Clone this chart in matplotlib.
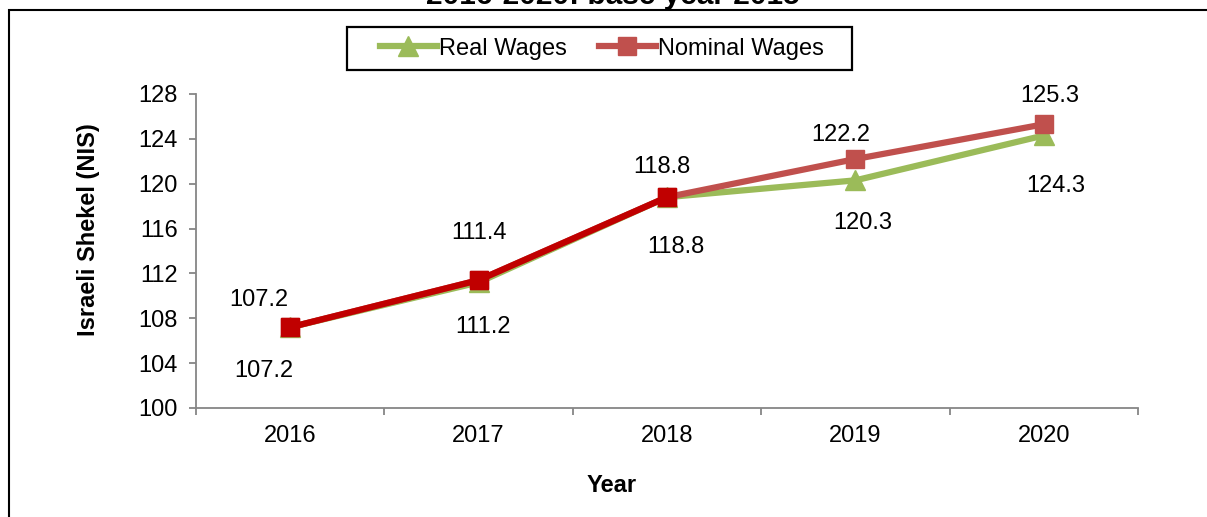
import matplotlib
matplotlib.use("Agg")
import matplotlib.pyplot as plt
from matplotlib.patches import Rectangle

plt.rcParams["font.family"] = ["Liberation Sans", "DejaVu Sans"]

# Data
years = ["2016", "2017", "2018", "2019", "2020"]
real_wages = [107.2, 111.2, 118.8, 120.3, 124.3]
nominal_wages = [107.2, 111.4, 118.8, 122.2, 125.3]
y_ticks = [100, 104, 108, 112, 116, 120, 124, 128]

# Label offsets in pixels (dx, dy) relative to each point
real_offsets = [(-26, -44), (4, -45), (9, -50), (7, -43), (12, -51)]
nominal_offsets = [(-31, 27), (0, 47), (-5, 30), (-15, 24), (6, 28)]

GREEN = "#9BBB59"
RED = "#C0504D"
DARK_RED = "#C00000"
AXIS_GREY = "#868686"

W, H = 1207, 517
fig = plt.figure(figsize=(W / 100, H / 100), dpi=100)
ax = fig.add_axes([196 / W, 1 - 408 / H, (1138 - 196) / W, (408 - 94) / H])

x = list(range(len(years)))

ax.plot(x, real_wages, color=GREEN, lw=4.5, marker="^", ms=15,
        markeredgecolor=GREEN, label="Real Wages", zorder=3,
        solid_joinstyle="round")
ax.plot(x, nominal_wages, color=RED, lw=4.5, marker="s", ms=13.5,
        markeredgecolor=RED, label="Nominal Wages", zorder=4,
        solid_joinstyle="round")
# highlighted first three years of the nominal series
ax.plot(x[:3], nominal_wages[:3], color=DARK_RED, lw=4.5, marker="s", ms=13.5,
        markeredgecolor=DARK_RED, zorder=5, solid_joinstyle="round")

for i, v in enumerate(real_wages):
    ax.annotate(f"{v:.1f}", (x[i], v), xytext=real_offsets[i],
                textcoords="offset pixels", ha="center", va="center",
                fontsize=17, color="black")
for i, v in enumerate(nominal_wages):
    ax.annotate(f"{v:.1f}", (x[i], v), xytext=nominal_offsets[i],
                textcoords="offset pixels", ha="center", va="center",
                fontsize=17, color="black")

ax.set_xlim(-0.5, len(years) - 0.5)
ax.set_ylim(y_ticks[0], y_ticks[-1])
ax.set_yticks(y_ticks)
ax.set_xticks(x)
ax.set_xticklabels(years)
ax.set_xticks([i - 0.5 for i in range(len(years) + 1)], minor=True)

for s in ["top", "right"]:
    ax.spines[s].set_visible(False)
for s in ["left", "bottom"]:
    ax.spines[s].set_color(AXIS_GREY)
    ax.spines[s].set_linewidth(1.3)

ax.tick_params(axis="y", direction="out", length=5, width=1.3,
               color=AXIS_GREY, labelsize=17, pad=8)
ax.tick_params(axis="x", which="major", length=0, labelsize=17, pad=12)
ax.tick_params(axis="x", which="minor", direction="out", length=5,
               width=1.3, color=AXIS_GREY)

fig.text(88 / W, 1 - 230 / H, "Israeli Shekel (NIS)", rotation=90,
         ha="center", va="center", fontsize=17, fontweight="bold")
fig.text(612 / W, 1 - 486 / H, "Year", ha="center", va="center",
         fontsize=17, fontweight="bold")

fig.text(613 / W, 1 - 3.5 / H, "2016-2020: base year 2015", ha="center",
         va="baseline", fontsize=21.5, fontweight="bold")

# legend entries without their own frame; the box is drawn separately
leg = fig.legend(loc="center", bbox_to_anchor=(602 / W, 1 - 48.5 / H),
                 ncol=2, fontsize=17, frameon=False,
                 handlelength=2.4, handletextpad=0.1, columnspacing=1.35,
                 borderpad=0, borderaxespad=0)
fig.patches.append(Rectangle((347 / W, 1 - 70 / H), (852 - 347) / W,
                             (70 - 27) / H, transform=fig.transFigure,
                             fill=False, edgecolor="black", lw=1.6))

fig.patches.append(Rectangle((8.5 / W, -0.1), 1.2, 1 - 10 / H + 0.1,
                             transform=fig.transFigure, fill=False,
                             edgecolor="black", lw=1.5))

fig.savefig("out.png", dpi=100)
